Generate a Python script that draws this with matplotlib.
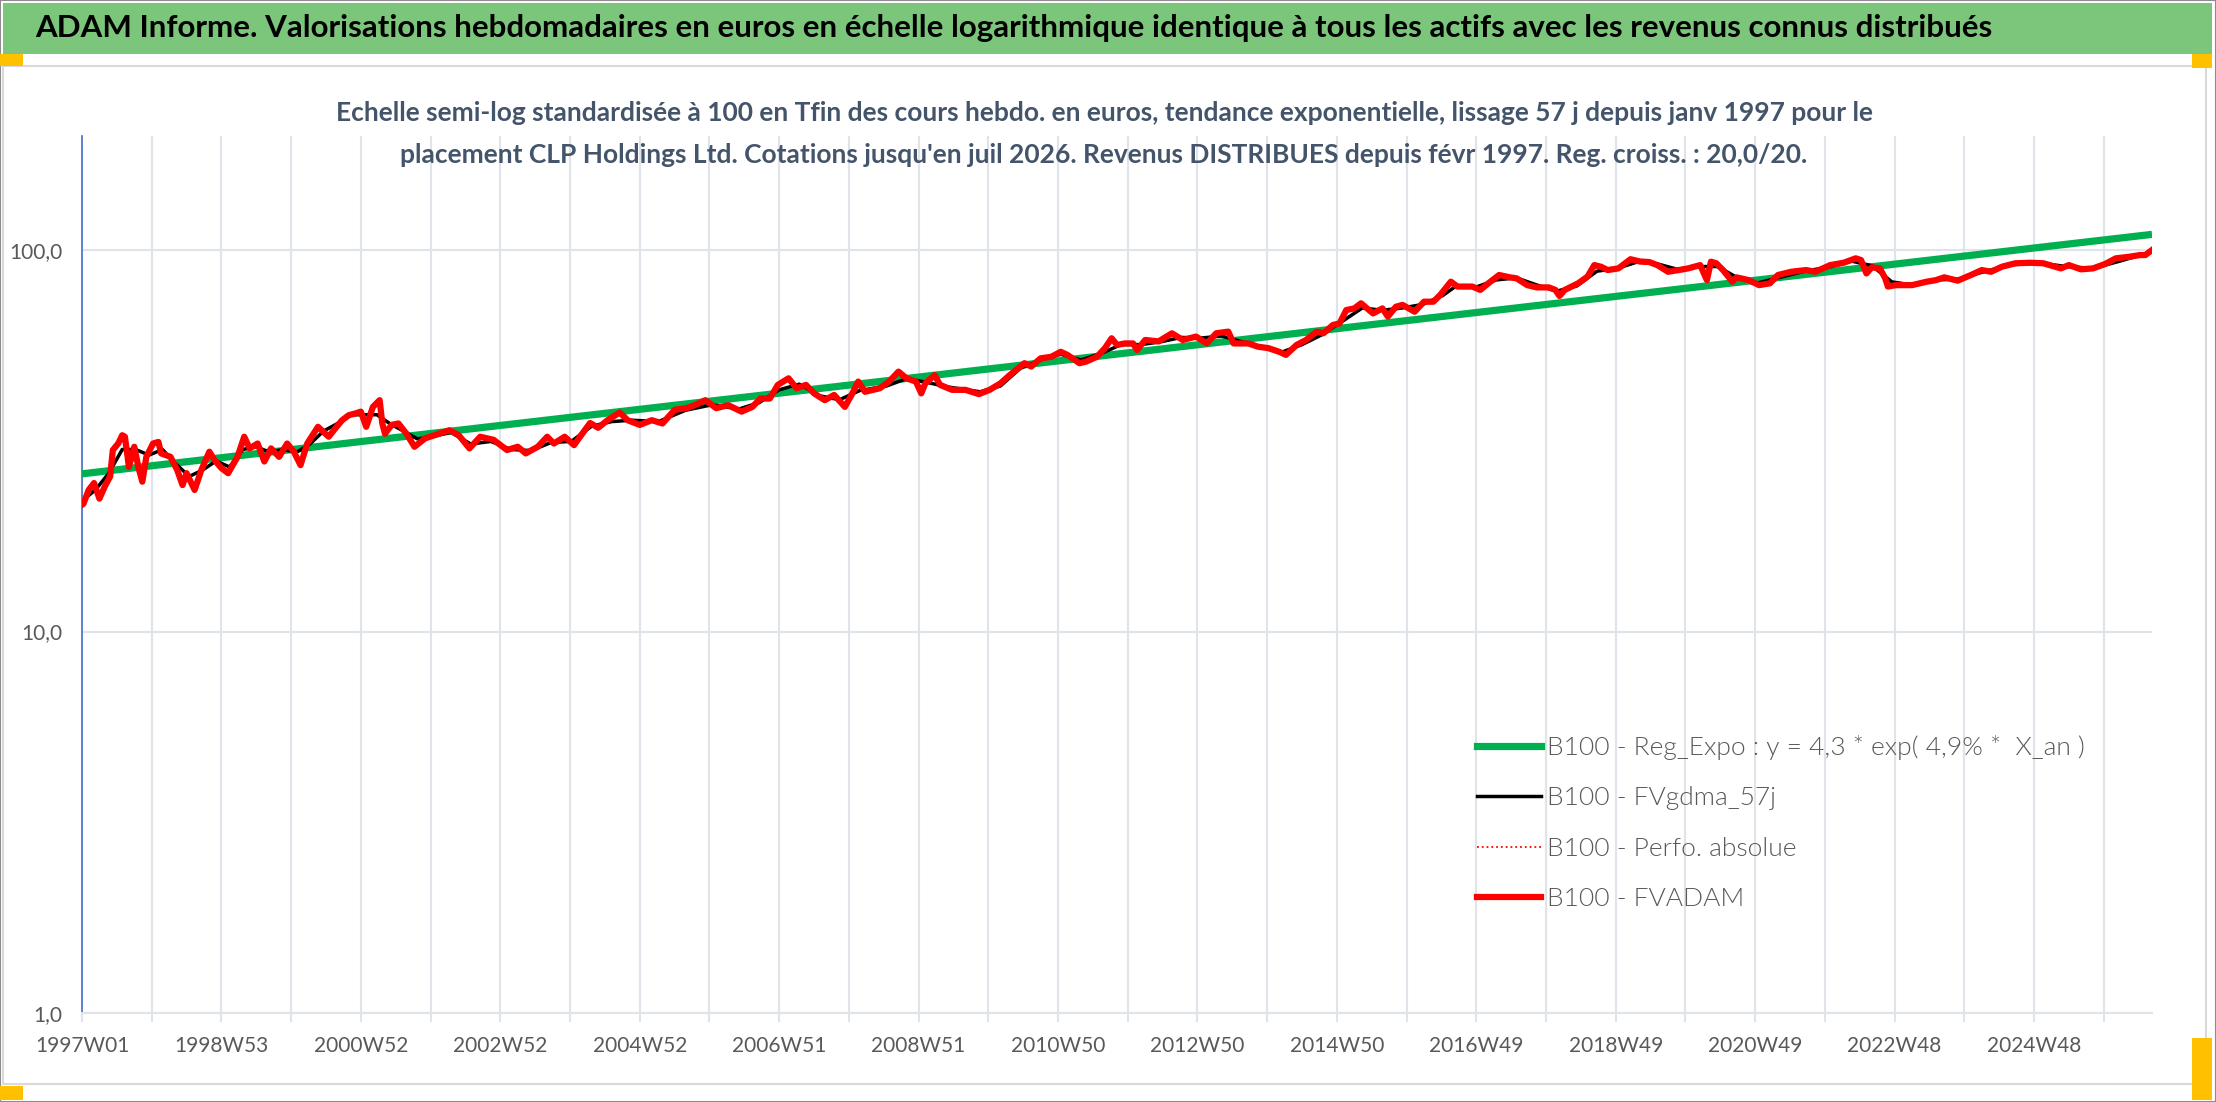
import matplotlib
matplotlib.use('Agg')
import matplotlib.pyplot as plt
from matplotlib.patches import Rectangle
from matplotlib.lines import Line2D

plt.rcParams['font.family'] = ['Liberation Sans Narrow', 'Lato', 'DejaVu Sans']

# week index (0 = 1997W01) and values
weeks = [0, 1, 5, 9, 13, 17, 21, 23, 27, 30, 32, 35, 39, 42, 45, 48, 53, 57, 59, 66,
         71, 75, 78, 84, 89, 95, 99, 104, 109, 116, 121, 125, 131, 136, 141, 147, 153, 158, 163, 168,
         176, 184, 189, 194, 199, 204, 208, 212, 217, 222, 224, 226, 231, 236, 242, 248, 256, 263, 274, 281,
         289, 297, 307, 317, 325, 331, 340, 347, 352, 360, 367, 375, 379, 385, 392, 401, 407, 416, 425, 433,
         442, 451, 457, 465, 473, 482, 492, 500, 506, 513, 519, 527, 533, 540, 546, 554, 561, 569, 574, 579,
         584, 595, 602, 609, 615, 622, 626, 629, 636, 640, 649, 659, 669, 677, 685, 692, 703, 708, 715, 723,
         730, 735, 744, 749, 757, 763, 768, 772, 778, 784, 787, 793, 803, 813, 821, 831, 839, 846, 855, 859,
         870, 877, 885, 893, 898, 906, 913, 921, 926, 933, 938, 943, 949, 954, 963, 970, 974, 980, 985, 994,
         1001, 1008, 1013, 1021, 1026, 1037, 1043, 1049, 1057, 1065, 1070, 1078, 1085, 1094, 1099, 1102, 1106, 1116, 1123, 1128,
         1133, 1138, 1146, 1155, 1162, 1169, 1175, 1183, 1191, 1198, 1207, 1212, 1215, 1219, 1224, 1231, 1234, 1243, 1251, 1259,
         1265, 1275, 1286, 1293, 1304, 1314, 1323, 1327, 1331, 1335, 1341, 1345, 1347, 1353, 1365, 1376, 1383, 1389, 1399, 1409,
         1417, 1424, 1432, 1442, 1453, 1463, 1476, 1482, 1491, 1500, 1509, 1517, 1527, 1535, 1539, 1544]
fvadam = [21.5, 21.6, 23.5, 24.5, 22.3, 24.0, 25.5, 29.9, 31.1, 32.7, 32.4, 27.0, 30.5, 27.0, 24.7, 28.7, 31.1, 31.4, 29.3, 28.7,
          26.5, 24.2, 26.0, 23.5, 26.5, 29.6, 28.1, 26.8, 26.0, 28.7, 32.4, 30.2, 31.1, 27.9, 30.2, 28.7, 31.1, 29.6, 27.3, 31.1,
          34.4, 32.4, 34.1, 35.8, 36.9, 37.3, 37.7, 34.4, 38.8, 40.4, 35.1, 33.0, 34.8, 35.1, 33.0, 30.5, 32.1, 32.7, 33.7, 32.7,
          30.2, 32.4, 31.8, 29.9, 30.5, 29.3, 30.5, 32.4, 31.1, 32.4, 30.8, 33.7, 35.2, 34.2, 35.8, 37.5, 35.8, 34.8, 35.8, 35.1,
          38.1, 38.5, 39.2, 40.4, 38.5, 39.2, 37.7, 38.8, 40.8, 40.8, 44.3, 46.1, 43.4, 44.3, 42.1, 40.4, 41.7, 38.8, 41.7, 45.2,
          42.5, 43.4, 45.2, 48.0, 46.1, 45.2, 42.1, 44.7, 47.0, 44.3, 43.0, 43.0, 41.9, 43.0, 44.7, 47.0, 50.5, 49.5, 52.0, 52.5,
          54.1, 53.1, 50.5, 51.0, 52.5, 55.3, 58.7, 56.4, 56.9, 56.9, 54.7, 58.1, 57.6, 60.5, 58.1, 59.3, 56.9, 60.5, 61.1, 56.9,
          56.9, 55.8, 55.3, 54.1, 53.1, 56.4, 58.1, 61.1, 60.5, 63.6, 64.2, 69.6, 70.3, 72.5, 68.2, 70.3, 66.9, 71.0, 71.8, 68.9,
          73.2, 73.2, 76.2, 82.6, 80.2, 80.2, 78.6, 81.8, 86.0, 84.8, 84.3, 80.9, 79.8, 79.8, 78.6, 75.8, 78.6, 81.8, 85.2, 91.3,
          90.4, 88.6, 89.5, 94.6, 93.3, 93.0, 91.3, 87.7, 88.6, 89.5, 91.3, 83.4, 93.2, 92.3, 88.6, 82.6, 84.8, 83.4, 80.9, 81.8,
          86.0, 87.7, 88.6, 87.7, 91.3, 92.6, 95.1, 94.1, 86.8, 90.1, 89.5, 84.3, 80.2, 80.9, 80.9, 82.6, 83.4, 84.8, 83.1, 86.0,
          88.6, 87.7, 90.4, 92.3, 92.6, 92.3, 89.5, 91.3, 89.0, 89.5, 91.9, 95.1, 96.0, 97.0, 97.0, 100.0]

# smoothed line (FVgdma_57j), read at coarser steps
weeks_ma = [0, 10, 20, 30, 40, 50, 60, 70, 80, 90, 100, 110, 120, 130, 140, 150, 160, 170, 180, 190,
            200, 210, 220, 230, 240, 250, 260, 275, 290, 305, 320, 335, 350, 365, 380, 395, 410, 430, 450, 470,
            490, 505, 520, 535, 550, 565, 580, 600, 615, 630, 645, 660, 670, 685, 700, 715, 730, 745, 760, 775,
            790, 805, 820, 835, 850, 865, 880, 895, 910, 925, 940, 955, 970, 985, 1000, 1015, 1025, 1040, 1055, 1070,
            1085, 1100, 1115, 1130, 1145, 1160, 1175, 1190, 1205, 1220, 1235, 1250, 1265, 1285, 1305, 1320, 1335, 1350, 1365, 1385,
            1400, 1420, 1440, 1460, 1480, 1500, 1520, 1544]
fvgdma = [22.0, 23.5, 26.0, 30.0, 30.0, 29.0, 30.0, 27.5, 25.5, 26.5, 28.0, 27.0, 30.0, 30.5, 29.5, 30.0, 29.5, 31.0, 33.5, 35.0,
          37.0, 37.0, 37.0, 35.0, 33.5, 32.0, 32.3, 33.3, 31.0, 31.5, 30.0, 29.8, 31.3, 31.5, 34.5, 35.5, 35.8, 35.5, 38.0, 39.3,
          38.3, 39.8, 43.0, 44.5, 41.5, 40.5, 42.8, 44.0, 46.0, 45.0, 43.8, 43.0, 42.5, 44.0, 49.0, 51.5, 53.3, 51.5, 53.5, 56.5,
          56.5, 57.5, 59.0, 58.8, 59.5, 57.5, 55.8, 54.0, 56.5, 60.0, 65.0, 70.5, 69.5, 70.5, 72.0, 76.0, 80.5, 80.0, 83.5, 84.5,
          81.0, 78.0, 80.5, 88.0, 89.5, 93.0, 92.0, 89.0, 90.5, 90.5, 84.5, 82.0, 84.5, 88.0, 90.5, 93.5, 91.0, 82.5, 81.0, 83.5,
          84.0, 88.0, 91.5, 92.5, 90.5, 89.5, 93.5, 99.0]

# exponential regression line, values at both ends
reg_weeks = [0, 1544]
reg_values = [25.9, 109.9]

n_weeks = 1545
tick_labels = ['1997W01', '1998W53', '2000W52', '2002W52', '2004W52', '2006W51', '2008W51', '2010W50',
               '2012W50', '2014W50', '2016W49', '2018W49', '2020W49', '2022W48', '2024W48']
y_ticks = [1, 10, 100]
y_labels = ['1,0', '10,0', '100,0']

legend_labels = ['B100 - Reg_Expo : y = 4,3 * exp( 4,9% *  X_an )', 'B100 - FVgdma_57j',
                 'B100 - Perfo. absolue', 'B100 - FVADAM']

title = ("ADAM Informe. Valorisations hebdomadaires en euros en échelle logarithmique identique "
         "à tous les actifs avec les revenus connus distribués")
subtitle1 = ("Echelle semi-log standardisée à 100 en Tfin des cours hebdo. en euros, tendance exponentielle, "
             "lissage 57 j depuis janv 1997 pour le")
subtitle2 = ("placement CLP Holdings Ltd. Cotations jusqu'en juil 2026. Revenus DISTRIBUES depuis févr 1997. "
             "Reg. croiss. : 20,0/20.")

W, H = 2216, 1102
fig = plt.figure(figsize=(W / 100, H / 100), dpi=100)

# frame, title band and corner handles
fig.patches.append(Rectangle((0, 0), 1, 1, transform=fig.transFigure, fill=False,
                             edgecolor='#8c8c8c', linewidth=1.5))
fig.patches.append(Rectangle((3 / W, 1 - 1084 / H), 2203 / W, (1084 - 66) / H,
                             transform=fig.transFigure, fill=False, edgecolor='#d9d9d9', linewidth=1.5))
fig.patches.append(Rectangle((3 / W, 1 - 54 / H), 2209 / W, 51 / H, transform=fig.transFigure,
                             facecolor='#7cc67c', edgecolor='none'))
for (x0, y0, w, h) in [(0, 54, 23, 12), (2192, 54, 20, 14), (0, 1086, 23, 14), (2192, 1038, 20, 62)]:
    fig.patches.append(Rectangle((x0 / W, 1 - (y0 + h) / H), w / W, h / H, transform=fig.transFigure,
                                 facecolor='#ffc000', edgecolor='none'))

fig.text(35 / W, 1 - 28 / H, title, ha='left', va='center', fontsize=22.5, fontweight='bold', color='black')
fig.text(1104 / W, 1 - 113 / H, subtitle1, ha='center', va='center', fontsize=19, fontweight='bold',
         color='#44546a')
fig.text(1104 / W, 1 - 155 / H, subtitle2, ha='center', va='center', fontsize=19, fontweight='bold',
         color='#44546a')

ax = fig.add_axes([82 / W, 1 - 1013 / H, (2152 - 82) / W, (1013 - 136) / H])
ax.set_yscale('log')
ax.set_ylim(1, 199)
ax.set_xlim(0, n_weeks - 1)

ax.plot(reg_weeks, reg_values, color='#00b050', linewidth=5.2, solid_capstyle='butt', zorder=3)
ax.plot(weeks_ma, fvgdma, color='black', linewidth=2.5, zorder=4)
ax.plot(weeks, fvadam, color='red', linewidth=1, linestyle=':', zorder=5)
ax.plot(weeks, fvadam, color='red', linewidth=4.5, solid_joinstyle='round', zorder=6)

grid_c = '#dfe3ea'
ax.set_yticks(y_ticks)
ax.set_yticklabels(y_labels)
ax.yaxis.set_minor_locator(matplotlib.ticker.NullLocator())
x_ticks = list(range(0, n_weeks, 52))
ax.set_xticks(x_ticks)
ax.set_xticklabels([tick_labels[i // 2] if i % 2 == 0 else '' for i in range(len(x_ticks))])
ax.grid(True, color=grid_c, linewidth=1.5)
ax.tick_params(axis='y', length=0, pad=14, labelsize=15, labelcolor='#595959')
ax.tick_params(axis='x', length=6.5, width=1.5, color=grid_c, pad=10, labelsize=15, labelcolor='#595959')
for s in ['top', 'right']:
    ax.spines[s].set_visible(False)
ax.spines['bottom'].set_color(grid_c)
ax.spines['bottom'].set_linewidth(1.5)
ax.spines['left'].set_color('#4472c4')
ax.spines['left'].set_linewidth(1.2)
ax.set_axisbelow(True)

handles = [Line2D([], [], color='#00b050', linewidth=5.2),
           Line2D([], [], color='black', linewidth=2.5),
           Line2D([], [], color='red', linewidth=1.3, linestyle=':'),
           Line2D([], [], color='red', linewidth=4.5)]
leg = ax.legend(handles, legend_labels, loc='upper left', bbox_to_anchor=(1477 / W, 1 - 735 / H),
                bbox_transform=fig.transFigure, frameon=False, handlelength=2.42,
                handletextpad=0.22, labelspacing=1.0, borderpad=0, borderaxespad=0,
                prop={'size': 19, 'weight': 300})
for t in leg.get_texts():
    t.set_color('#595959')

fig.savefig('out.png', dpi=100)
